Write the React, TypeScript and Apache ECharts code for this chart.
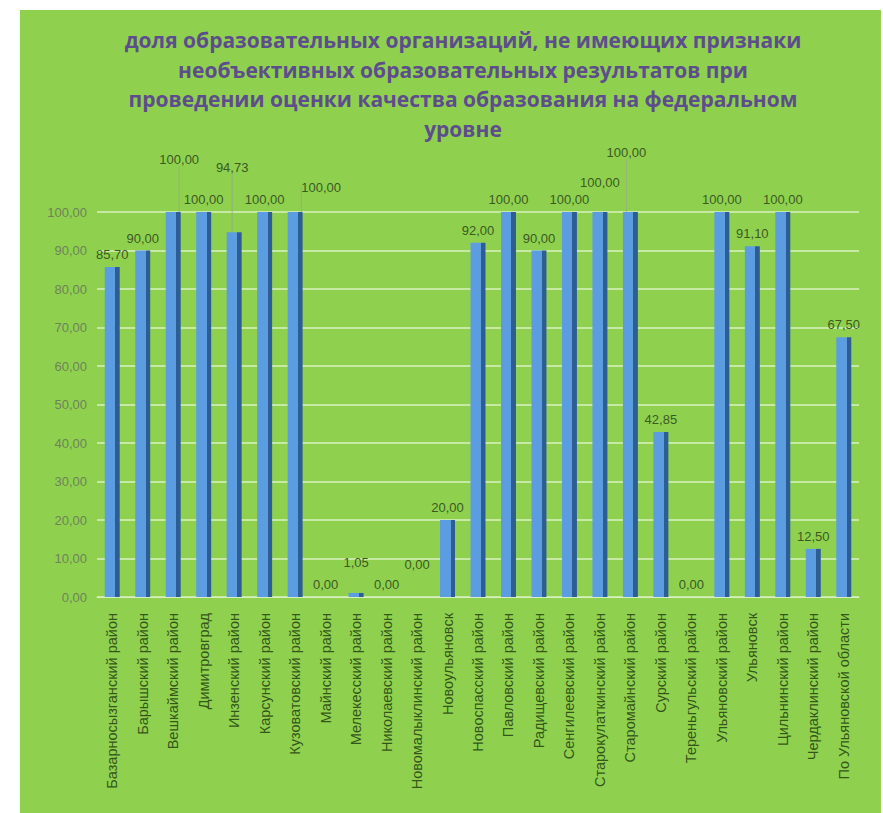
import React, { useEffect, useRef } from "react";
import * as echarts from "echarts";

const categories = [
  "Базарносызганский район",
  "Барышский район",
  "Вешкаймский район",
  "Димитровград",
  "Инзенский район",
  "Карсунский район",
  "Кузоватовский район",
  "Майнский район",
  "Мелекесский район",
  "Николаевский район",
  "Новомалыклинский район",
  "Новоульяновск",
  "Новоспасский район",
  "Павловский район",
  "Радищевский район",
  "Сенгилеевский район",
  "Старокулаткинский район",
  "Старомайнский район",
  "Сурский район",
  "Тереньгульский район",
  "Ульяновский район",
  "Ульяновск",
  "Цильнинский район",
  "Чердаклинский район",
  "По Ульяновской области",
];

const values = [
  85.7, 90.0, 100.0, 100.0, 94.73, 100.0, 100.0, 0.0, 1.05, 0.0, 0.0, 20.0,
  92.0, 100.0, 90.0, 100.0, 100.0, 100.0, 42.85, 0.0, 100.0, 91.1, 100.0,
  12.5, 67.5,
];

const titleLines = [
  "доля образовательных организаций, не имеющих признаки",
  "необъективных образовательных результатов при",
  "проведении оценки качества образования на федеральном",
  "уровне",
];

const yMin = 0;
const yMax = 100;
const yStep = 10;

// label nudges (layout only): dataIndex -> [dx, dy]
const labelNudges: Record<number, [number, number]> = {
  2: [6, -40],
  4: [-2, -52],
  6: [26, -12],
  8: [0, -18],
  10: [0, -20],
  16: [0, -17],
  17: [-4, -47],
};
const leaderIdx = new Set([2, 4, 6, 17]);

const fmt = (v: number) => v.toFixed(2).replace(".", ",");

export default function App() {
  const ref = useRef<HTMLDivElement>(null);
  useEffect(() => {
    document.body.style.margin = "0";
    const chart = echarts.init(ref.current!, undefined, { renderer: "svg" });
    const barColor = new echarts.graphic.LinearGradient(0, 0, 1, 0, [
      { offset: 0, color: "#5c9de2" },
      { offset: 0.7, color: "#5c9de2" },
      { offset: 0.7, color: "#2d5e93" },
      { offset: 1, color: "#2d5e93" },
    ]);
    chart.setOption({
      animation: false,
      backgroundColor: "#ffffff",
      graphic: [
        {
          type: "rect",
          z: -10,
          shape: { x: 20, y: 10, width: 861, height: 803 },
          style: { fill: "#8fd14f" },
          silent: true,
        },
        ...titleLines.map((t, i) => ({
          type: "text",
          z: 10,
          x: 463,
          y: 40 + i * 29.5,
          style: {
            text: t,
            fill: "#5d4d8c",
            font: 'bold 21px "Open Sans", "Liberation Sans", sans-serif',
            textAlign: "center",
            textVerticalAlign: "middle",
            shadowColor: "rgba(0,0,0,0.35)",
            shadowBlur: 3,
            shadowOffsetX: 1,
            shadowOffsetY: 1,
          },
        })),
      ],
      grid: { left: 97, right: 24, top: 212, bottom: 216, containLabel: false },
      xAxis: {
        type: "category",
        data: categories,
        axisLine: { show: true, lineStyle: { color: "#d8efc0", width: 1 } },
        axisTick: { show: false },
        axisLabel: {
          interval: 0,
          rotate: 90,
          margin: 16,
          color: "#35561a",
          fontSize: 14.5,
          fontFamily: '"Liberation Sans", Arial, sans-serif',
        },
      },
      yAxis: {
        type: "value",
        min: yMin,
        max: yMax,
        interval: yStep,
        axisLine: { show: false },
        axisTick: { show: false },
        splitLine: { lineStyle: { color: "rgba(235,250,220,0.8)", width: 1.5 } },
        axisLabel: {
          formatter: (v: number) => fmt(v),
          color: "#6e8358",
          fontSize: 13,
          margin: 10,
          fontFamily: '"Liberation Sans", Arial, sans-serif',
        },
      },
      series: [
        {
          type: "bar",
          barWidth: 15,
          data: values.map((v, i) => ({
            value: v,
            labelLine: leaderIdx.has(i)
              ? { show: true, lineStyle: { color: "rgba(150,170,130,0.8)", width: 1 } }
              : { show: false },
          })),
          itemStyle: { color: barColor },
          label: {
            show: true,
            position: "top",
            distance: 6,
            formatter: (p: any) => fmt(p.value),
            color: "#3b5a22",
            fontSize: 13,
            fontFamily: '"Liberation Sans", Arial, sans-serif',
          },
          labelLayout: (params: any) => {
            const n = labelNudges[params.dataIndex];
            return n ? { dx: n[0], dy: n[1] } : {};
          },
        },
      ],
    });
    return () => chart.dispose();
  }, []);
  return (
    <div
      ref={ref}
      style={{ position: "absolute", left: 0, top: 0, width: 883, height: 813 }}
    />
  );
}
